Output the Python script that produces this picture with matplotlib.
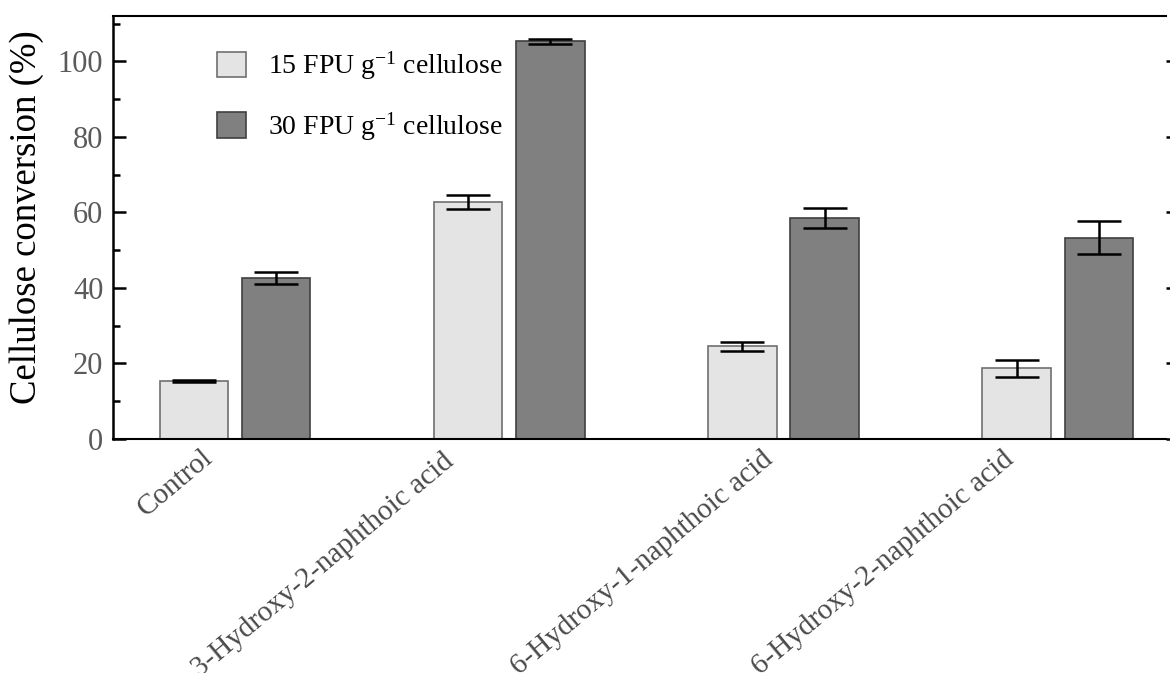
import matplotlib
matplotlib.use("Agg")
import matplotlib.pyplot as plt
import matplotlib.transforms as mtransforms
from matplotlib.patches import Patch
import numpy as np

# data
groups = ["Control", "3-Hydroxy-2-naphthoic acid",
          "6-Hydroxy-1-naphthoic acid", "6-Hydroxy-2-naphthoic acid"]
conv_15 = [15.3, 62.7, 24.5, 18.7]
err_15 = [0.3, 1.8, 1.2, 2.2]
conv_30 = [42.7, 105.3, 58.6, 53.3]
err_30 = [1.6, 0.6, 2.6, 4.4]
series_names = ["15 FPU g$^{-1}$ cellulose", "30 FPU g$^{-1}$ cellulose"]

plt.rcParams["font.family"] = ["Liberation Serif", "DejaVu Serif"]
plt.rcParams["mathtext.fontset"] = "custom"
plt.rcParams["mathtext.rm"] = "Liberation Serif"
plt.rcParams["mathtext.it"] = "Liberation Serif:italic"

fig = plt.figure(figsize=(11.7, 6.73), dpi=100)
ax = fig.add_axes([113 / 1170, 1 - 439 / 673, (1166 - 113) / 1170, (439 - 16) / 673])

x = np.arange(len(groups))
w = 0.25
light = "#e4e4e4"
dark = "#808080"
err_kw = dict(ecolor="black", elinewidth=1.8, capsize=15.5, capthick=1.8)

ax.bar(x - 0.15, conv_15, w, color=light, edgecolor="#707070", linewidth=1.2,
       yerr=err_15, error_kw=err_kw, zorder=2)
ax.bar(x + 0.15, conv_30, w, color=dark, edgecolor="#404040", linewidth=1.2,
       yerr=err_30, error_kw=err_kw, zorder=2)

ax.set_xlim(-0.445, 3.395)
ax.set_ylim(0, 112)

ax.set_yticks(np.arange(0, 101, 20))
ax.set_yticks(np.arange(10, 111, 20), minor=True)
ax.tick_params(axis="y", which="major", direction="in", length=9.5, width=1.8,
               labelsize=22, labelcolor="#5a5a5a", pad=7, right=True)
ax.tick_params(axis="y", which="minor", direction="in", length=5, width=1.8)
ax.yaxis.set_tick_params(which="minor", right=False)

# right side ticks: short, outward, no right spine
for t in ax.yaxis.get_major_ticks():
    t.tick2line.set_marker(matplotlib.lines.TICKRIGHT)
    t.tick2line.set_markersize(3)

ax.spines["right"].set_visible(False)
ax.spines["left"].set_linewidth(1.8)
ax.spines["top"].set_linewidth(1.5)
ax.spines["bottom"].set_linewidth(1.5)

ax.set_ylabel("Cellulose conversion (%)", fontsize=26.5)
ax.yaxis.set_label_coords(-0.066, 0.525)

# x labels, rotated, hand-placed like the original
ax.set_xticks(x)
ax.set_xticklabels(groups, rotation=40, ha="right", va="top",
                   rotation_mode="anchor", fontsize=21, color="#4a4a4a")
ax.tick_params(axis="x", length=0, pad=0)
shift_px = [(-34, -5), (-67, -9), (-22, -7), (-56, -7)]
for lab, (dx, dy) in zip(ax.get_xticklabels(), shift_px):
    lab.set_transform(lab.get_transform() +
                      mtransforms.ScaledTranslation(dx / 100, dy / 100, fig.dpi_scale_trans))

handles = [Patch(facecolor=light, edgecolor="#707070", linewidth=1.2),
           Patch(facecolor=dark, edgecolor="#404040", linewidth=1.2)]
ax.legend(handles, series_names, loc="upper left", bbox_to_anchor=(0.0988, 0.92),
          frameon=False, fontsize=20, handlelength=1.05, handleheight=1.05,
          handletextpad=0.8, labelspacing=1.02, borderpad=0, borderaxespad=0)

fig.savefig("out.png", dpi=100)
